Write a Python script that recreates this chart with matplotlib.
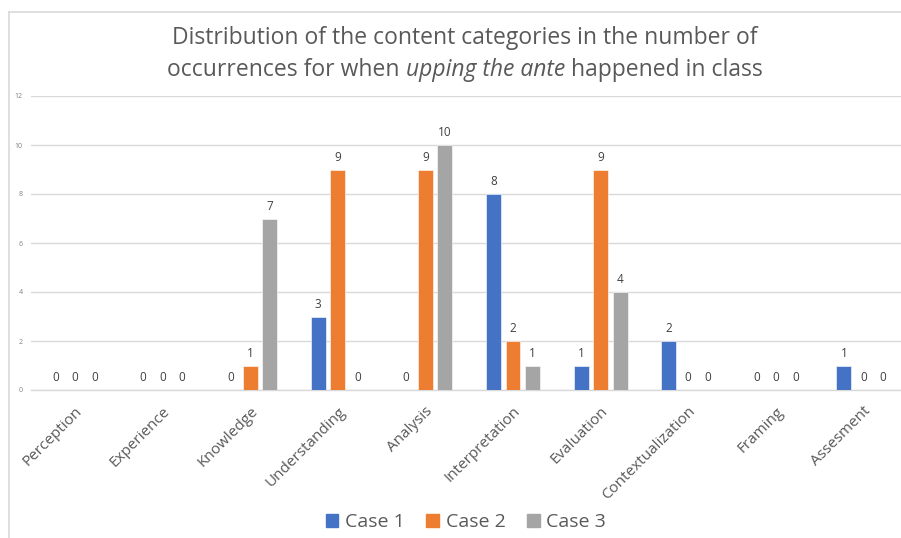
import matplotlib
matplotlib.use("Agg")
import matplotlib.pyplot as plt
import numpy as np
from matplotlib.lines import Line2D

categories = ["Perception", "Experience", "Knowledge", "Understanding", "Analysis",
              "Interpretation", "Evaluation", "Contextualization", "Framing", "Assesment"]
case1 = [0, 0, 0, 3, 0, 8, 1, 2, 0, 1]
case2 = [0, 0, 1, 9, 9, 2, 9, 0, 0, 0]
case3 = [0, 0, 7, 0, 10, 1, 4, 0, 0, 0]
series_names = ["Case 1", "Case 2", "Case 3"]
y_ticks = [0, 2, 4, 6, 8, 10, 12]

colors = ["#4472C4", "#ED7D31", "#A5A5A5"]
font = "Open Sans"

W, H = 901, 538
fig = plt.figure(figsize=(W / 100, H / 100), dpi=100)
fig.patch.set_facecolor("white")

# chart-area border (top and left edges)
fig.add_artist(Line2D([9 / W, 1.0], [1 - 12 / H, 1 - 12 / H], color="#D9D9D9", lw=1.2))
fig.add_artist(Line2D([9 / W, 9 / W], [0, 1 - 12 / H], color="#D9D9D9", lw=1.2))

left_px, right_px = 31.2, 31.2 + 87.6 * 10
bottom_px, top_px = 390, 96
ax = fig.add_axes([left_px / W, 1 - bottom_px / H,
                   (right_px - left_px) / W, (bottom_px - top_px) / H])
ax.set_facecolor("none")

x = np.arange(len(categories))
bw = 0.17
step = 0.223
for i, (vals, name, c) in enumerate(zip([case1, case2, case3], series_names, colors)):
    pos = x + (i - 1) * step
    ax.bar(pos, vals, width=bw, color=c, edgecolor="#FFFFFF", linewidth=0.4,
           label=name, zorder=3)
    for p, v in zip(pos, vals):
        ax.annotate(str(v), (p, v), xytext=(0, 4), textcoords="offset points",
                    ha="center", va="bottom", fontsize=8.5, color="#404040",
                    family=font)

ax.set_xlim(-0.5, len(categories) - 0.5)
ax.set_ylim(0, 12)
ax.set_yticks(y_ticks)
ax.set_yticklabels([str(t) for t in y_ticks], fontsize=5, color="#808080", family=font)
ax.tick_params(axis="y", length=0, pad=6)
ax.yaxis.grid(True, color="#D9D9D9", lw=1, zorder=0)
ax.set_axisbelow(True)
for s in ["top", "right", "left"]:
    ax.spines[s].set_visible(False)
ax.spines["bottom"].set_color("#D9D9D9")
ax.spines["bottom"].set_linewidth(1)

ax.set_xticks(x)
ax.set_xticklabels(categories, rotation=45, ha="right", va="top",
                   rotation_mode="anchor", fontsize=11, color="#595959", family=font)
ax.tick_params(axis="x", length=0, pad=10)

# title with italic phrase
cx = 465
fig.text(cx / W, 1 - 38 / H, "Distribution of the content categories in the number of",
         ha="center", va="center", fontsize=16.5, color="#595959", family=font)
line2 = [("occurrences for when ", "normal"), ("upping the ante", "italic"),
         (" happened in class", "normal")]
renderer = fig.canvas.get_renderer()
texts = []
for s, st in line2:
    t = fig.text(0, 1 - 70 / H, s, ha="left", va="center", fontsize=16.5,
                 color="#595959", family=font, style=st)
    texts.append(t)
widths = [t.get_window_extent(renderer).width for t in texts]
total = sum(widths)
xpos = cx - total / 2
for t, w in zip(texts, widths):
    t.set_x(xpos / W)
    xpos += w

handles = [plt.Rectangle((0, 0), 1, 1, color=c) for c in colors]
fig.legend(handles, series_names, loc="center", bbox_to_anchor=(466 / W, 1 - 522 / H),
           ncol=3, frameon=False, prop={"family": font, "size": 14},
           labelcolor="#595959", handlelength=0.65, handleheight=0.65,
           handletextpad=0.35, columnspacing=1.1)

fig.savefig("out.png", dpi=100, facecolor="white")
